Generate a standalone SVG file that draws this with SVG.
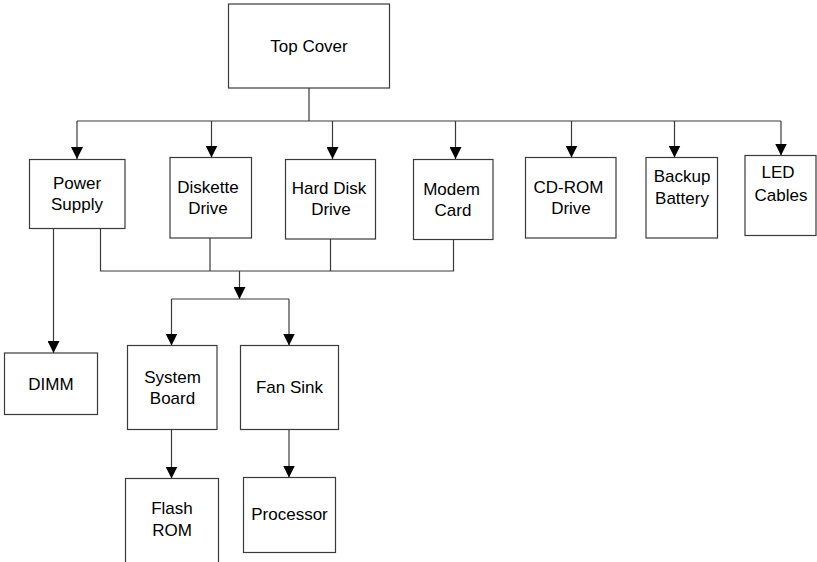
<svg xmlns="http://www.w3.org/2000/svg" width="817" height="562" viewBox="0 0 817 562">
<style>
.box{fill:#fff;stroke:#3a3a3a;stroke-width:1.2}
.ln{fill:none;stroke:#3a3a3a;stroke-width:1.2}
.ar{fill:none;stroke:#3a3a3a;stroke-width:1.2;marker-end:url(#ah)}
text{font-family:"Liberation Sans",Arial,sans-serif;font-size:17px;fill:#000;text-anchor:middle}
</style>
<defs>
<marker id="ah" viewBox="0 0 12 12" refX="12" refY="6" markerWidth="12" markerHeight="12" markerUnits="userSpaceOnUse" orient="auto">
<path d="M0,0 L12,6 L0,12 Z" fill="#000"/>
</marker>
</defs>
<rect width="817" height="562" fill="#fff"/>
<g id="connectors">
<path class="ln" d="M309,88 V121 M77,121 H781"/>
<path class="ar" d="M77,121 V159"/>
<path class="ar" d="M211.5,121 V157.5"/>
<path class="ar" d="M332.5,121 V159"/>
<path class="ar" d="M455.5,121 V159"/>
<path class="ar" d="M571.5,121 V157.5"/>
<path class="ar" d="M674.5,121 V157.5"/>
<path class="ar" d="M781,121 V155.5"/>
<path class="ln" d="M100.5,229 V271 H453.5 V239.5 M210,238 V271 M330.5,239 V271"/>
<path class="ar" d="M239.5,271 V299"/>
<path class="ln" d="M171.5,299 H289"/>
<path class="ar" d="M171.5,299 V345.5"/>
<path class="ar" d="M289,299 V345.5"/>
<path class="ar" d="M53.5,229 V353"/>
<path class="ar" d="M171.5,429.5 V478.5"/>
<path class="ar" d="M289,429.5 V477.5"/>
</g>
<g id="top-cover"><rect class="box" x="228.5" y="4" width="161" height="84"/><text x="309" y="52">Top Cover</text></g>
<g id="power-supply"><rect class="box" x="29.5" y="159.5" width="95.5" height="69"/><text x="77" y="189">Power</text><text x="77" y="210">Supply</text></g>
<g id="diskette-drive"><rect class="box" x="170" y="157.5" width="81.5" height="80.5"/><text x="208" y="193">Diskette</text><text x="208" y="214">Drive</text></g>
<g id="hard-disk-drive"><rect class="box" x="285.5" y="159.5" width="90" height="79.5"/><text x="329" y="193.5">Hard Disk</text><text x="331" y="215">Drive</text></g>
<g id="modem-card"><rect class="box" x="413.5" y="159.5" width="79.5" height="80"/><text x="451.5" y="194.5">Modem</text><text x="453" y="216">Card</text></g>
<g id="cd-rom-drive"><rect class="box" x="525.5" y="157.5" width="90.5" height="80.5"/><text x="568.5" y="193">CD-ROM</text><text x="571" y="214">Drive</text></g>
<g id="backup-battery"><rect class="box" x="646" y="157.5" width="71.5" height="80.5"/><text x="682" y="182">Backup</text><text x="682" y="203.5">Battery</text></g>
<g id="led-cables"><rect class="box" x="745" y="155.5" width="71" height="80"/><text x="778" y="178">LED</text><text x="781" y="201">Cables</text></g>
<g id="dimm"><rect class="box" x="4.5" y="353" width="93" height="61.5"/><text x="51" y="389.5">DIMM</text></g>
<g id="system-board"><rect class="box" x="127.5" y="345.5" width="89.5" height="84"/><text x="172.5" y="383">System</text><text x="172.5" y="404">Board</text></g>
<g id="fan-sink"><rect class="box" x="240.5" y="345.5" width="98" height="84"/><text x="289.5" y="393">Fan Sink</text></g>
<g id="flash-rom"><rect class="box" x="125.5" y="478.5" width="93" height="100"/><text x="172" y="514">Flash</text><text x="172" y="536">ROM</text></g>
<g id="processor"><rect class="box" x="243.5" y="477.5" width="92" height="75"/><text x="289.5" y="520">Processor</text></g>
</svg>
